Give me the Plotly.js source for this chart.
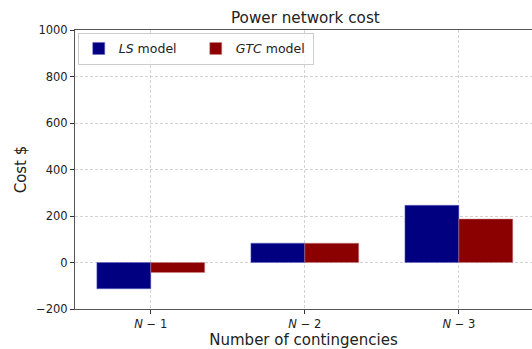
<!DOCTYPE html>
<html>
<head>
<meta charset="utf-8">
<script src="https://cdn.plot.ly/plotly-3.0.1.min.js"></script>
<style>html,body{margin:0;padding:0;background:#fff;}#chart{width:532px;height:349px;}</style>
</head>
<body>
<div id="chart"></div>
<script>
const categories = [0, 1, 2];
const tickLabels = ["<i>N</i> − 1", "<i>N</i> − 2", "<i>N</i> − 3"];
const lsValues = [-113, 83, 246];
const gtcValues = [-43, 83, 187];
const seriesNames = ["<i>LS</i> model", "<i>GTC</i> model"];

const font = "'DejaVu Sans', sans-serif";
const traces = [
  {type: "bar", x: categories, y: lsValues, name: seriesNames[0],
   marker: {color: "#000080", line: {color: "#6666cc", width: 0.5}}},
  {type: "bar", x: categories, y: gtcValues, name: seriesNames[1],
   marker: {color: "#8b0000", line: {color: "#d08080", width: 0.5}}}
];
const layout = {
  width: 532, height: 349,
  margin: {l: 75, r: 0, t: 30, b: 40},
  paper_bgcolor: "#fff", plot_bgcolor: "#fff",
  font: {family: font, color: "#222", size: 11.5},
  title: {text: "Power network cost", font: {size: 15.2, family: font, color: "#222"}, x: 0.574, xanchor: "center", y: 0.95, yanchor: "middle"},
  barmode: "group", bargap: 0.3, bargroupgap: 0,
  showlegend: true,
  legend: {orientation: "h", x: 0.006, y: 0.99, xanchor: "left", yanchor: "top",
           bgcolor: "rgba(255,255,255,0.8)", bordercolor: "#cccccc", borderwidth: 1,
           font: {size: 12.5, family: font, color: "#222"},
           entrywidth: 72, entrywidthmode: "pixels", traceorder: "normal"},
  xaxis: {range: [-0.492, 2.475], tickvals: categories, ticktext: tickLabels,
          showgrid: true, gridcolor: "#d3d3d3", griddash: "3px,2px", gridwidth: 1,
          ticks: "outside", ticklen: 4, tickcolor: "#333", zeroline: false,
          showline: true, linecolor: "#555", linewidth: 1, mirror: true,
          tickfont: {size: 11.5, family: font},
          title: {text: "Number of contingencies", font: {size: 15, family: font}, standoff: 4}},
  yaxis: {range: [-200, 1000], tickvals: [-200, 0, 200, 400, 600, 800, 1000],
          ticktext: ["−200", "0", "200", "400", "600", "800", "1000"],
          showgrid: true, gridcolor: "#d3d3d3", griddash: "3px,2px", gridwidth: 1,
          ticks: "outside", ticklen: 4, tickcolor: "#333", zeroline: false,
          showline: true, linecolor: "#555", linewidth: 1, mirror: true,
          tickfont: {size: 11.5, family: font},
          title: {text: "Cost $", font: {size: 15, family: font}, standoff: 5}}
};
Plotly.newPlot("chart", traces, layout, {displayModeBar: false, staticPlot: true});
</script>
</body>
</html>
